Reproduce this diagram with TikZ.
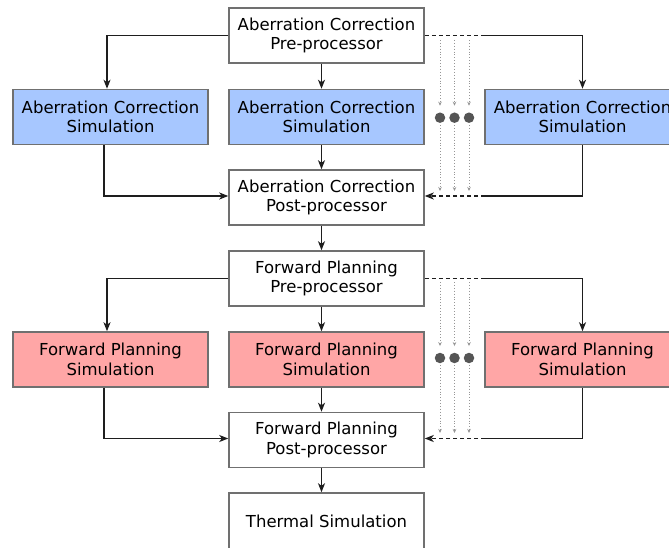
\documentclass[tikz,border=0pt]{standalone}
\usepackage{fontspec}
\setmainfont{DejaVu Sans}
\usetikzlibrary{arrows.meta}
\definecolor{acblue}{RGB}{167,199,255}
\definecolor{fpred}{RGB}{255,166,166}
\definecolor{boxgray}{RGB}{112,112,112}
\definecolor{linegray}{RGB}{30,30,30}
\definecolor{dotgray}{RGB}{150,150,150}
\definecolor{ballgray}{RGB}{85,85,85}
\begin{document}
\begin{tikzpicture}[x=1pt,y=-1pt,
  box/.style={draw=boxgray, line width=1.5pt, minimum width=195pt, minimum height=55pt,
    align=center, inner sep=0pt, font=\fontsize{16.5}{19.5}\selectfont},
  plainbox/.style={box, fill=white},
  acbox/.style={box, fill=acblue},
  fpbox/.style={box, fill=fpred},
  wire/.style={draw=linegray, line width=1.3pt},
  conn/.style={wire, -{Stealth[length=9pt,width=7pt,inset=2.5pt]}},
  dashwire/.style={wire, dash pattern=on 4pt off 3pt},
  dashconn/.style={conn, dash pattern=on 4pt off 3pt},
  dotconn/.style={draw=dotgray, line width=0.9pt, dotted, -{Stealth[length=4pt,width=3.5pt]}},
  ball/.style={circle, fill=ballgray, draw=none, minimum size=10.5pt, inner sep=0pt}
]
\useasboundingbox (0,0) rectangle (669,548);
\clip (0,0) rectangle (669,548);

% ---------- Aberration correction stage ----------
\node[plainbox] (acpre) at (326.5,35.5) {Aberration Correction\\Pre-processor};
\node[acbox] (acsim1) at (110.5,117) {Aberration Correction\\Simulation};
\node[acbox] (acsim2) at (326.5,117) {Aberration Correction\\Simulation};
\node[acbox] (acsim3) at (582.5,117) {Aberration Correction\\Simulation};
\node[plainbox] (acpost) at (326.5,197.5) {Aberration Correction\\Post-processor};

% ---------- Forward planning stage ----------
\node[plainbox] (fppre) at (326.5,278.5) {Forward Planning\\Pre-processor};
\node[fpbox] (fpsim1) at (110.5,359.5) {Forward Planning\\Simulation};
\node[fpbox] (fpsim2) at (326.5,359.5) {Forward Planning\\Simulation};
\node[fpbox] (fpsim3) at (582.5,359.5) {Forward Planning\\Simulation};
\node[plainbox] (fppost) at (326.5,440) {Forward Planning\\Post-processor};

\node[plainbox, minimum height=57pt] (thermal) at (326.5,521.5) {Thermal Simulation};

% ---------- balls ----------
\node[ball] (acb1) at (440,117.7) {};
\node[ball] (acb2) at (454.5,117.7) {};
\node[ball] (acb3) at (469,117.7) {};
\node[ball] (fpb1) at (440,358) {};
\node[ball] (fpb2) at (454.5,358) {};
\node[ball] (fpb3) at (469,358) {};

% ---------- helper coordinates ----------
\coordinate (acR1) at (485,35.5);
\coordinate (acR2) at (485,196);
\coordinate (fpR1) at (485,278.5);
\coordinate (fpR2) at (485,438.5);

\coordinate (acd1t) at (440,40);   \coordinate (acd1b) at (440,191);
\coordinate (acd2t) at (454.5,40); \coordinate (acd2b) at (454.5,191);
\coordinate (acd3t) at (469,40);   \coordinate (acd3b) at (469,191);
\coordinate (fpd1t) at (440,282);   \coordinate (fpd1b) at (440,433);
\coordinate (fpd2t) at (454.5,282); \coordinate (fpd2b) at (454.5,433);
\coordinate (fpd3t) at (469,282);   \coordinate (fpd3b) at (469,433);

% ---------- AC connectors ----------
\draw[conn] (acpre.west) -| ([xshift=-3.5pt]acsim1.north);
\draw[conn] ([xshift=-5pt]acpre.south) -- ([xshift=-5pt]acsim2.north);
\draw[dashwire] (acpre.east) -- (acR1);
\draw[conn] (acR1) -| (acsim3.north);
\draw[conn] ([xshift=-6.5pt]acsim1.south) |- ([yshift=1.5pt]acpost.west);
\draw[conn] ([xshift=-5pt]acsim2.south) -- ([xshift=-5pt]acpost.north);
\draw[wire] (acsim3.south) |- (acR2);
\draw[dashconn] (acR2) -- ([yshift=1.5pt]acpost.east);
\draw[conn] ([xshift=-5pt]acpost.south) -- ([xshift=-5pt]fppre.north);

\foreach \i in {1,2,3}{
  \draw[dotconn, shorten >=6.5pt] (acd\i t) -- (acb\i.north);
  \draw[dotconn, shorten <=2pt] (acb\i.south) -- (acd\i b);
}

% ---------- FP connectors ----------
\draw[conn] (fppre.west) -| ([xshift=-3.5pt]fpsim1.north);
\draw[conn] ([xshift=-5pt]fppre.south) -- ([xshift=-5pt]fpsim2.north);
\draw[dashwire] (fppre.east) -- (fpR1);
\draw[conn] (fpR1) -| (fpsim3.north);
\draw[conn] ([xshift=-6.5pt]fpsim1.south) |- ([yshift=1.5pt]fppost.west);
\draw[conn] ([xshift=-5pt]fpsim2.south) -- ([xshift=-5pt]fppost.north);
\draw[wire] (fpsim3.south) |- (fpR2);
\draw[dashconn] (fpR2) -- ([yshift=1.5pt]fppost.east);
\draw[conn] ([xshift=-5pt]fppost.south) -- ([xshift=-5pt]thermal.north);

\foreach \i in {1,2,3}{
  \draw[dotconn, shorten >=6.5pt] (fpd\i t) -- (fpb\i.north);
  \draw[dotconn, shorten <=2pt] (fpb\i.south) -- (fpd\i b);
}
\end{tikzpicture}
\end{document}
